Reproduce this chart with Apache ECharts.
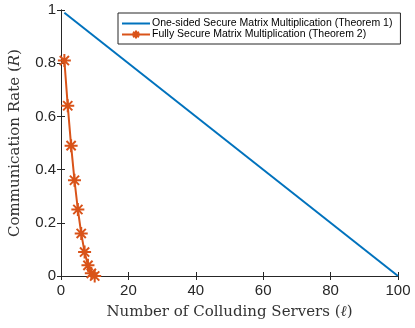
<!DOCTYPE html>
<html>
<head>
<meta charset="utf-8">
<script src="https://cdn.jsdelivr.net/npm/echarts@6/dist/echarts.min.js"></script>
<style>
  html, body { margin: 0; padding: 0; background: #fff; }
  #chart { width: 415px; height: 328px; }
</style>
</head>
<body>
<div id="chart"></div>
<script>
// number of colluding servers / rates
var oneSidedL = [1, 100];
var oneSidedR = [0.99, 0];
var fullyL = [1, 2, 3, 4, 5, 6, 7, 8, 9, 10];
var fullyR = [0.81, 0.64, 0.49, 0.36, 0.25, 0.16, 0.09, 0.04, 0.01, 0];
var xTicks = [0, 20, 40, 60, 80, 100];
var yTicks = [0, 0.2, 0.4, 0.6, 0.8, 1];
var seriesNames = ['One-sided Secure Matrix Multiplication (Theorem 1)',
                   'Fully Secure Matrix Multiplication (Theorem 2)'];

function pairs(xs, ys) {
    var out = [];
    for (var i = 0; i < xs.length; i++) out.push([xs[i], ys[i]]);
    return out;
}

var axisColor = '#262626';
var blue = '#0072BD', orange = '#D95319';
var star = 'path://M0,-10L0,10M-10,0L10,0M-7.07,-7.07L7.07,7.07M-7.07,7.07L7.07,-7.07';

var chart = echarts.init(document.getElementById('chart'));

var baseAxis = {
    axisLine: { show: true, lineStyle: { color: axisColor, width: 1 } },
    axisTick: { show: true, inside: true, length: 4, lineStyle: { color: axisColor } },
    splitLine: { show: false }
};

chart.setOption({
    animation: false,
    grid: { left: 57, right: 17, top: 10, bottom: 52 },
    legend: {
        orient: 'vertical',
        left: 118, top: 13,
        backgroundColor: '#fff',
        borderColor: axisColor,
        borderWidth: 1,
        padding: [5, 8, 4, 3],
        itemGap: 0,
        itemWidth: 28,
        itemHeight: 10,
        textStyle: { fontFamily: 'Liberation Sans, Arial', fontSize: 10.5, color: '#000', padding: [0, 0, 0, -3] },
        data: [
            { name: seriesNames[0], itemStyle: { opacity: 0 } },
            { name: seriesNames[1] }
        ]
    },
    xAxis: [
        Object.assign({}, baseAxis, {
            type: 'value', min: 0, max: 100, interval: 20,
            position: 'bottom',
            name: 'Number of Colluding Servers ({i|ℓ})',
            nameLocation: 'middle', nameGap: 29,
            nameTextStyle: {
                fontFamily: 'DejaVu Serif, Liberation Serif', fontSize: 15, color: '#333',
                rich: { i: { fontFamily: 'DejaVu Serif, Liberation Serif', fontStyle: 'italic', fontSize: 15, color: '#333' } }
            },
            axisLabel: {
                fontFamily: 'Liberation Sans, Arial', fontSize: 15, color: axisColor, margin: 7,
                formatter: function (v) { return xTicks.indexOf(v) >= 0 ? String(v) : ''; }
            }
        }),
        Object.assign({}, baseAxis, {
            type: 'value', min: 0, max: 100, interval: 20, position: 'top',
            axisLabel: { show: false }
        })
    ],
    yAxis: [
        Object.assign({}, baseAxis, {
            type: 'value', min: 0, max: 1, interval: 0.2,
            position: 'left',
            name: 'Communication Rate ({i|R})',
            nameLocation: 'middle', nameGap: 38,
            nameTextStyle: {
                fontFamily: 'DejaVu Serif, Liberation Serif', fontSize: 15, color: '#333',
                rich: { i: { fontFamily: 'DejaVu Serif, Liberation Serif', fontStyle: 'italic', fontSize: 15, color: '#333' } }
            },
            axisLabel: {
                fontFamily: 'Liberation Sans, Arial', fontSize: 15, color: axisColor, margin: 5,
                formatter: function (v) {
                    var r = Math.round(v * 10) / 10;
                    return yTicks.indexOf(r) >= 0 ? String(r) : '';
                }
            }
        }),
        Object.assign({}, baseAxis, {
            type: 'value', min: 0, max: 1, interval: 0.2, position: 'right',
            axisLabel: { show: false }
        })
    ],
    series: [
        {
            name: seriesNames[0],
            type: 'line',
            data: pairs(oneSidedL, oneSidedR),
            symbol: 'none',
            lineStyle: { color: blue, width: 2 },
            itemStyle: { color: blue }
        },
        {
            name: seriesNames[1],
            type: 'line',
            data: pairs(fullyL, fullyR),
            symbol: star,
            symbolSize: 13,
            showAllSymbol: true,
            lineStyle: { color: orange, width: 2 },
            itemStyle: { color: orange, borderColor: orange, borderWidth: 2 },
            z: 3
        }
    ]
});
</script>
</body>
</html>
